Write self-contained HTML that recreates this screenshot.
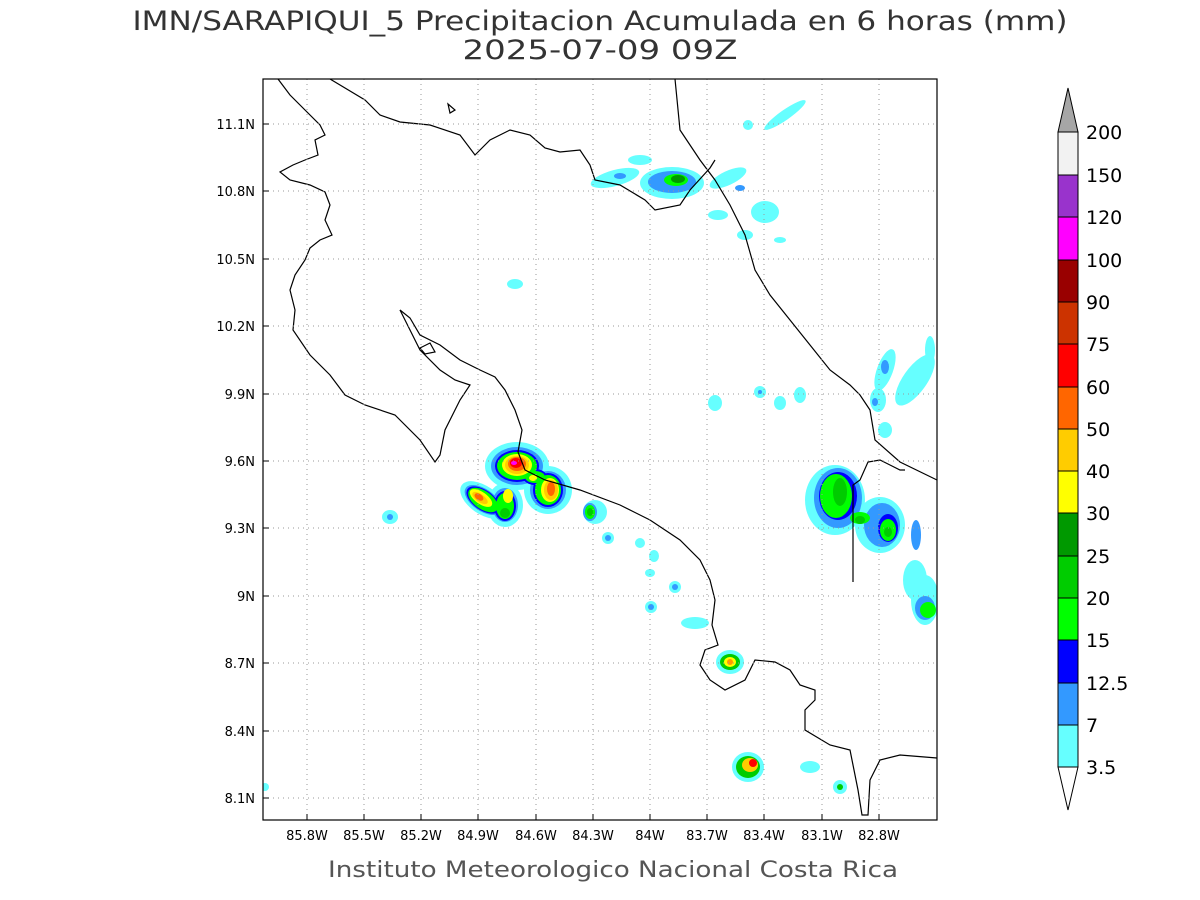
<!DOCTYPE html>
<html><head><meta charset="utf-8"><style>
body{margin:0;background:#fff;width:1200px;height:900px;overflow:hidden}
svg{display:block}
text{font-family:"DejaVu Sans","Liberation Sans",sans-serif}
</style></head><body>
<svg width="1200" height="900" viewBox="0 0 1200 900" xmlns="http://www.w3.org/2000/svg">
<text x="600" y="30" font-size="27" text-anchor="middle" fill="#333" font-family="Liberation Sans" textLength="935" lengthAdjust="spacingAndGlyphs">IMN/SARAPIQUI_5 Precipitacion Acumulada en 6 horas (mm)</text>
<text x="600" y="59" font-size="27" text-anchor="middle" fill="#333" font-family="Liberation Sans" textLength="275" lengthAdjust="spacingAndGlyphs">2025-07-09 09Z</text>
<defs><clipPath id="c"><rect x="263" y="79" width="674" height="741"/></clipPath></defs>
<g clip-path="url(#c)">
<g>
<!-- main cluster -->
<g fill="#66ffff">
<ellipse cx="517" cy="466" rx="32" ry="24"/><ellipse cx="548" cy="490" rx="24" ry="24"/>
<ellipse cx="483" cy="500" rx="26" ry="14" transform="rotate(35 483 500)"/><ellipse cx="505" cy="505" rx="18" ry="22"/>
<ellipse cx="595" cy="512" rx="12" ry="12"/>
</g>
<g fill="#3399ff">
<ellipse cx="517" cy="466" rx="26" ry="19"/><ellipse cx="548" cy="490" rx="18" ry="19"/>
<ellipse cx="483" cy="500" rx="21" ry="11" transform="rotate(35 483 500)"/><ellipse cx="505" cy="505" rx="13" ry="17"/>
<ellipse cx="590" cy="512" rx="7" ry="9"/>
</g>
<g fill="#0000ff">
<ellipse cx="517" cy="466" rx="22" ry="16"/><ellipse cx="548" cy="490" rx="15" ry="17"/>
<ellipse cx="483" cy="500" rx="19" ry="10" transform="rotate(35 483 500)"/><ellipse cx="505" cy="506" rx="11" ry="15"/>
<ellipse cx="535" cy="477" rx="12" ry="8"/>
</g>
<g fill="#00ff00">
<ellipse cx="517" cy="466" rx="20" ry="14"/><ellipse cx="548" cy="490" rx="13" ry="15"/>
<ellipse cx="483" cy="500" rx="17" ry="9" transform="rotate(35 483 500)"/><ellipse cx="505" cy="506" rx="9" ry="13"/>
<ellipse cx="535" cy="477" rx="10" ry="6"/><ellipse cx="590" cy="512" rx="5" ry="7"/>
</g>
<g fill="#00cc00"><ellipse cx="505" cy="513" rx="5" ry="5"/><ellipse cx="590" cy="512" rx="3" ry="4"/></g>
<g fill="#ffff00">
<ellipse cx="517" cy="465" rx="15" ry="11"/><ellipse cx="550" cy="490" rx="9" ry="12"/>
<ellipse cx="481" cy="498" rx="13" ry="6" transform="rotate(35 481 498)"/><ellipse cx="508" cy="496" rx="5" ry="7"/>
<ellipse cx="533" cy="478" rx="4" ry="3"/>
</g>
<g fill="#ffcc00"><ellipse cx="517" cy="465" rx="12" ry="9"/><ellipse cx="551" cy="490" rx="7" ry="10"/><ellipse cx="480" cy="498" rx="9" ry="4" transform="rotate(35 480 498)"/></g>
<g fill="#ff6600"><ellipse cx="517" cy="464" rx="9" ry="7"/><ellipse cx="551" cy="489" rx="4" ry="7"/><ellipse cx="479" cy="497" rx="5" ry="3" transform="rotate(35 479 497)"/></g>
<ellipse cx="516" cy="463" rx="6" ry="5" fill="#ff0000"/>
<ellipse cx="514" cy="463" rx="3" ry="2" fill="#ff00ff"/>

<ellipse cx="390" cy="517" rx="8" ry="7" fill="#66ffff"/>
<ellipse cx="390" cy="517" rx="3" ry="3" fill="#3399ff"/>
<ellipse cx="608" cy="538" rx="6" ry="6" fill="#66ffff"/><ellipse cx="608" cy="538" rx="3" ry="3" fill="#3399ff"/>
<ellipse cx="640" cy="543" rx="5" ry="5" fill="#66ffff"/>
<ellipse cx="654" cy="556" rx="5" ry="6" fill="#66ffff"/>
<ellipse cx="650" cy="573" rx="5" ry="4" fill="#66ffff"/>
<ellipse cx="675" cy="587" rx="6" ry="6" fill="#66ffff"/><ellipse cx="675" cy="587" rx="3" ry="3" fill="#3399ff"/>
<ellipse cx="651" cy="607" rx="6" ry="6" fill="#66ffff"/><ellipse cx="651" cy="607" rx="3" ry="3" fill="#3399ff"/>
<ellipse cx="695" cy="623" rx="14" ry="6" fill="#66ffff"/>
<ellipse cx="730" cy="662" rx="14" ry="12" fill="#66ffff"/>
<ellipse cx="730" cy="662" rx="10" ry="8" fill="#00cc00"/>
<ellipse cx="730" cy="662" rx="6" ry="5" fill="#ffff00"/>
<ellipse cx="730" cy="662" rx="3" ry="3" fill="#ff9900"/>
<ellipse cx="748" cy="767" rx="16" ry="15" fill="#66ffff"/>
<ellipse cx="748" cy="767" rx="12" ry="11" fill="#00cc00"/>
<ellipse cx="750" cy="765" rx="8" ry="7" fill="#ffcc00"/>
<ellipse cx="753" cy="763" rx="4" ry="4" fill="#ff0000"/>
<ellipse cx="810" cy="767" rx="10" ry="6" fill="#66ffff"/>
<ellipse cx="840" cy="787" rx="7" ry="7" fill="#66ffff"/><ellipse cx="840" cy="787" rx="3" ry="3" fill="#00cc00"/>
<ellipse cx="265" cy="787" rx="4" ry="4" fill="#66ffff"/>
<!-- east cluster -->
<g fill="#66ffff">
<ellipse cx="835" cy="500" rx="30" ry="35"/><ellipse cx="880" cy="525" rx="25" ry="28"/><ellipse cx="915" cy="580" rx="12" ry="20"/><ellipse cx="925" cy="600" rx="14" ry="25"/>
</g>
<g fill="#3399ff">
<ellipse cx="838" cy="498" rx="24" ry="30"/><ellipse cx="882" cy="525" rx="18" ry="22"/><ellipse cx="916" cy="535" rx="5" ry="15"/><ellipse cx="925" cy="608" rx="10" ry="12"/>
</g>
<g fill="#0000ff"><ellipse cx="838" cy="496" rx="19" ry="24"/><ellipse cx="888" cy="528" rx="10" ry="14"/></g>
<g fill="#00ff00"><ellipse cx="836" cy="496" rx="16" ry="22"/><ellipse cx="860" cy="518" rx="10" ry="6"/><ellipse cx="888" cy="530" rx="8" ry="11"/><ellipse cx="928" cy="610" rx="8" ry="8"/></g>
<g fill="#00cc00"><ellipse cx="840" cy="492" rx="7" ry="14"/><ellipse cx="860" cy="520" rx="5" ry="4"/><ellipse cx="888" cy="532" rx="4" ry="5"/></g>
<!-- NE blobs -->
<g fill="#66ffff">
<ellipse cx="885" cy="370" rx="8" ry="22" transform="rotate(20 885 370)"/>
<ellipse cx="915" cy="380" rx="12" ry="30" transform="rotate(35 915 380)"/>
<ellipse cx="878" cy="400" rx="8" ry="12"/>
<ellipse cx="885" cy="430" rx="7" ry="8"/>
<ellipse cx="930" cy="350" rx="5" ry="14"/>
</g>
<ellipse cx="885" cy="367" rx="4" ry="7" fill="#3399ff"/>
<ellipse cx="875" cy="402" rx="3" ry="4" fill="#3399ff"/>
<ellipse cx="760" cy="392" rx="6" ry="6" fill="#66ffff"/><ellipse cx="760" cy="392" rx="2" ry="2" fill="#3399ff"/>
<ellipse cx="780" cy="403" rx="6" ry="7" fill="#66ffff"/>
<ellipse cx="800" cy="395" rx="6" ry="8" fill="#66ffff"/>
<ellipse cx="715" cy="403" rx="7" ry="8" fill="#66ffff"/>
<ellipse cx="515" cy="284" rx="8" ry="5" fill="#66ffff"/>
<!-- north cluster -->
<g fill="#66ffff">
<ellipse cx="672" cy="183" rx="32" ry="16"/><ellipse cx="615" cy="178" rx="25" ry="8" transform="rotate(-15 615 178)"/>
<ellipse cx="728" cy="178" rx="20" ry="7" transform="rotate(-25 728 178)"/><ellipse cx="765" cy="212" rx="14" ry="11"/>
<ellipse cx="640" cy="160" rx="12" ry="5"/>
</g>
<g fill="#3399ff"><ellipse cx="672" cy="182" rx="24" ry="11"/><ellipse cx="620" cy="176" rx="6" ry="3"/><ellipse cx="740" cy="188" rx="5" ry="3"/></g>
<ellipse cx="676" cy="180" rx="12" ry="6" fill="#00ff00"/>
<ellipse cx="678" cy="179" rx="7" ry="4" fill="#009900"/>
<ellipse cx="785" cy="115" rx="25" ry="5" fill="#66ffff" transform="rotate(-35 785 115)"/>
<ellipse cx="748" cy="125" rx="5" ry="5" fill="#66ffff"/>
<ellipse cx="718" cy="215" rx="10" ry="5" fill="#66ffff"/>
<ellipse cx="745" cy="235" rx="8" ry="5" fill="#66ffff"/>
<ellipse cx="780" cy="240" rx="6" ry="3" fill="#66ffff"/>
</g>
<!-- coastlines -->
<g fill="none" stroke="#000" stroke-width="1.2">
<polyline points="278,79 290,95 303,108 320,125 325,135 315,140 318,155 305,160 293,165 280,172 290,180 310,185 325,192 330,205 325,220 332,235 320,240 310,248 305,260 295,275 290,290 295,310 293,330 310,355 330,375 345,395 365,405 395,415 420,440 435,462 440,455 445,430 460,400 470,385 455,380 440,370 420,350 410,330 400,310"/>
<polyline points="400,310 410,318 420,335 440,345 460,360 480,370 495,377 505,390 515,410 522,430 518,452 525,470 545,480 580,490 620,505 650,520 680,540 700,560 710,580 715,600 712,625 718,645 705,650 700,665 710,680 725,690 745,680 755,660 775,662 790,670 800,685 815,690 815,700 805,710 805,730 830,745 850,750 858,790 862,815 868,815 870,780 880,760 900,755 937,758"/>
<polyline points="330,79 365,100 380,115 400,122 430,125 460,135 475,155 490,140 510,130 530,135 545,148 560,152 580,150 590,165 595,180 620,185 645,200 655,210 680,205 690,190 710,168 715,160"/>
<polyline points="675,79 680,130 700,160 715,180 730,205 745,235 755,270 770,295 790,320 810,345 830,370 850,385 860,395 870,410 875,440 900,462 937,480"/>
<polyline points="853,582 853,485 860,480 868,462 880,460 900,470 905,470"/>
<polygon points="448,104 455,110 450,113"/>
<polygon points="420,348 430,343 435,352 425,354"/>
</g>
</g>
<g stroke="#999" stroke-width="1" stroke-dasharray="1,4">
<line x1="307" y1="79" x2="307" y2="820"/><line x1="364" y1="79" x2="364" y2="820"/><line x1="421" y1="79" x2="421" y2="820"/><line x1="478" y1="79" x2="478" y2="820"/><line x1="536" y1="79" x2="536" y2="820"/><line x1="593" y1="79" x2="593" y2="820"/><line x1="650" y1="79" x2="650" y2="820"/><line x1="707" y1="79" x2="707" y2="820"/><line x1="764" y1="79" x2="764" y2="820"/><line x1="822" y1="79" x2="822" y2="820"/><line x1="879" y1="79" x2="879" y2="820"/>
<line x1="263" y1="124" x2="937" y2="124"/><line x1="263" y1="191" x2="937" y2="191"/><line x1="263" y1="259" x2="937" y2="259"/><line x1="263" y1="326" x2="937" y2="326"/><line x1="263" y1="394" x2="937" y2="394"/><line x1="263" y1="461" x2="937" y2="461"/><line x1="263" y1="528" x2="937" y2="528"/><line x1="263" y1="596" x2="937" y2="596"/><line x1="263" y1="663" x2="937" y2="663"/><line x1="263" y1="731" x2="937" y2="731"/><line x1="263" y1="798" x2="937" y2="798"/>
</g>
<rect x="263" y="79" width="674" height="741" fill="none" stroke="#000" stroke-width="1.2"/>
<g stroke="#000">
<line x1="307" y1="820" x2="307" y2="814"/><line x1="364" y1="820" x2="364" y2="814"/><line x1="421" y1="820" x2="421" y2="814"/><line x1="478" y1="820" x2="478" y2="814"/><line x1="536" y1="820" x2="536" y2="814"/><line x1="593" y1="820" x2="593" y2="814"/><line x1="650" y1="820" x2="650" y2="814"/><line x1="707" y1="820" x2="707" y2="814"/><line x1="764" y1="820" x2="764" y2="814"/><line x1="822" y1="820" x2="822" y2="814"/><line x1="879" y1="820" x2="879" y2="814"/>
<line x1="263" y1="124" x2="269" y2="124"/><line x1="263" y1="191" x2="269" y2="191"/><line x1="263" y1="259" x2="269" y2="259"/><line x1="263" y1="326" x2="269" y2="326"/><line x1="263" y1="394" x2="269" y2="394"/><line x1="263" y1="461" x2="269" y2="461"/><line x1="263" y1="528" x2="269" y2="528"/><line x1="263" y1="596" x2="269" y2="596"/><line x1="263" y1="663" x2="269" y2="663"/><line x1="263" y1="731" x2="269" y2="731"/><line x1="263" y1="798" x2="269" y2="798"/>
</g>
<g font-size="13" fill="#000" text-anchor="middle">
<text x="307" y="840">85.8W</text><text x="364" y="840">85.5W</text><text x="421" y="840">85.2W</text><text x="478" y="840">84.9W</text><text x="536" y="840">84.6W</text><text x="593" y="840">84.3W</text><text x="650" y="840">84W</text><text x="707" y="840">83.7W</text><text x="764" y="840">83.4W</text><text x="822" y="840">83.1W</text><text x="879" y="840">82.8W</text>
</g>
<g font-size="13" fill="#000" text-anchor="end">
<text x="255" y="129">11.1N</text><text x="255" y="196">10.8N</text><text x="255" y="264">10.5N</text><text x="255" y="331">10.2N</text><text x="255" y="399">9.9N</text><text x="255" y="466">9.6N</text><text x="255" y="533">9.3N</text><text x="255" y="601">9N</text><text x="255" y="668">8.7N</text><text x="255" y="736">8.4N</text><text x="255" y="803">8.1N</text>
</g>
<text x="613" y="877" font-size="22" text-anchor="middle" fill="#555" font-family="Liberation Sans" textLength="570" lengthAdjust="spacingAndGlyphs">Instituto Meteorologico Nacional Costa Rica</text>
<g stroke="#000" stroke-width="1">
<polygon points="1058,767 1078,767 1068,810" fill="#fff"/>
<rect x="1058" y="725" width="20" height="42" fill="#66ffff"/>
<rect x="1058" y="683" width="20" height="42" fill="#3399ff"/>
<rect x="1058" y="640" width="20" height="43" fill="#0000ff"/>
<rect x="1058" y="598" width="20" height="42" fill="#00ff00"/>
<rect x="1058" y="556" width="20" height="42" fill="#00cc00"/>
<rect x="1058" y="513" width="20" height="43" fill="#009900"/>
<rect x="1058" y="471" width="20" height="42" fill="#ffff00"/>
<rect x="1058" y="429" width="20" height="42" fill="#ffcc00"/>
<rect x="1058" y="387" width="20" height="42" fill="#ff6600"/>
<rect x="1058" y="344" width="20" height="43" fill="#ff0000"/>
<rect x="1058" y="302" width="20" height="42" fill="#cc3300"/>
<rect x="1058" y="260" width="20" height="42" fill="#990000"/>
<rect x="1058" y="217" width="20" height="43" fill="#ff00ff"/>
<rect x="1058" y="175" width="20" height="42" fill="#9933cc"/>
<rect x="1058" y="132" width="20" height="43" fill="#f2f2f2"/>
<polygon points="1058,132 1078,132 1068,88" fill="#a6a6a6"/>
</g>
<g font-size="19" fill="#000">
<text x="1086" y="774">3.5</text><text x="1086" y="732">7</text><text x="1086" y="690">12.5</text><text x="1086" y="647">15</text><text x="1086" y="605">20</text><text x="1086" y="563">25</text><text x="1086" y="520">30</text><text x="1086" y="478">40</text><text x="1086" y="436">50</text><text x="1086" y="394">60</text><text x="1086" y="351">75</text><text x="1086" y="309">90</text><text x="1086" y="267">100</text><text x="1086" y="224">120</text><text x="1086" y="182">150</text><text x="1086" y="139">200</text>
</g>
</svg>
</body></html>
